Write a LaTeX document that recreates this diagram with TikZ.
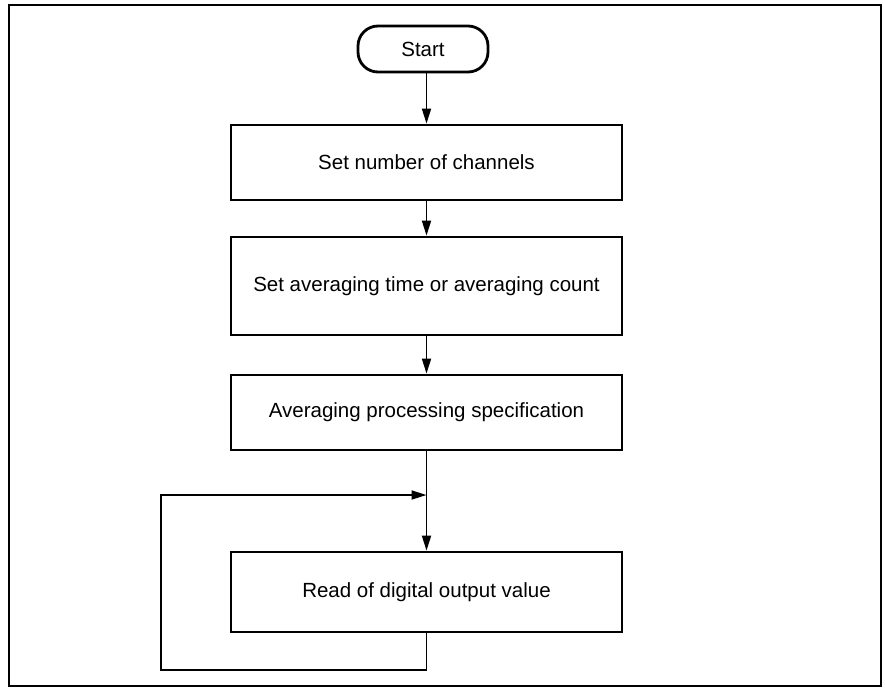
\documentclass[tikz,border=0pt]{standalone}
\usepackage{fontspec}
\setmainfont{Liberation Sans}
\usetikzlibrary{arrows.meta}
\begin{document}
\begin{tikzpicture}[x=1pt,y=-1pt,
  box/.style={draw,line width=2.8pt,minimum width=391pt,inner sep=0pt,font=\fontsize{20.5}{24}\selectfont},
  term/.style={draw,line width=2.8pt,rounded corners=20pt,minimum width=130pt,minimum height=46pt,inner sep=0pt,font=\fontsize{20.5}{24}\selectfont},
  arr/.style={line width=1.8pt,-{Triangle[length=15pt,width=9pt]}},
  ln/.style={line width=1.8pt}]
\useasboundingbox (0,0) rectangle (885,691);
\draw[line width=2.8pt] (9,5) rectangle (881,686);
\node[term] (start) at (423,49) {Start};
\node[box,minimum height=75pt] (b1) at (426.5,162.5) {Set number of channels};
\node[box,minimum height=98pt] (b2) at (426.5,286) {Set averaging time or averaging count};
\node[box,minimum height=75pt] (b3) at (426.5,412.5) {Averaging processing specification};
\node[box,minimum height=80pt] (b4) at (426.5,592) {Read of digital output value};
\coordinate (j) at (426.5,495);
\coordinate (c1) at (426.5,670);
\coordinate (c2) at (161,670);
\coordinate (c3) at (161,495);
\draw[arr] (start.south -| b1.north) -- (b1.north);
\draw[arr] (b1.south) -- (b2.north);
\draw[arr] (b2.south) -- (b3.north);
\draw[arr] (b3.south) -- (b4.north);
\draw[arr] (b4.south) -- (c1) -- (c2) -- (c3) -- (j);
\end{tikzpicture}
\end{document}
